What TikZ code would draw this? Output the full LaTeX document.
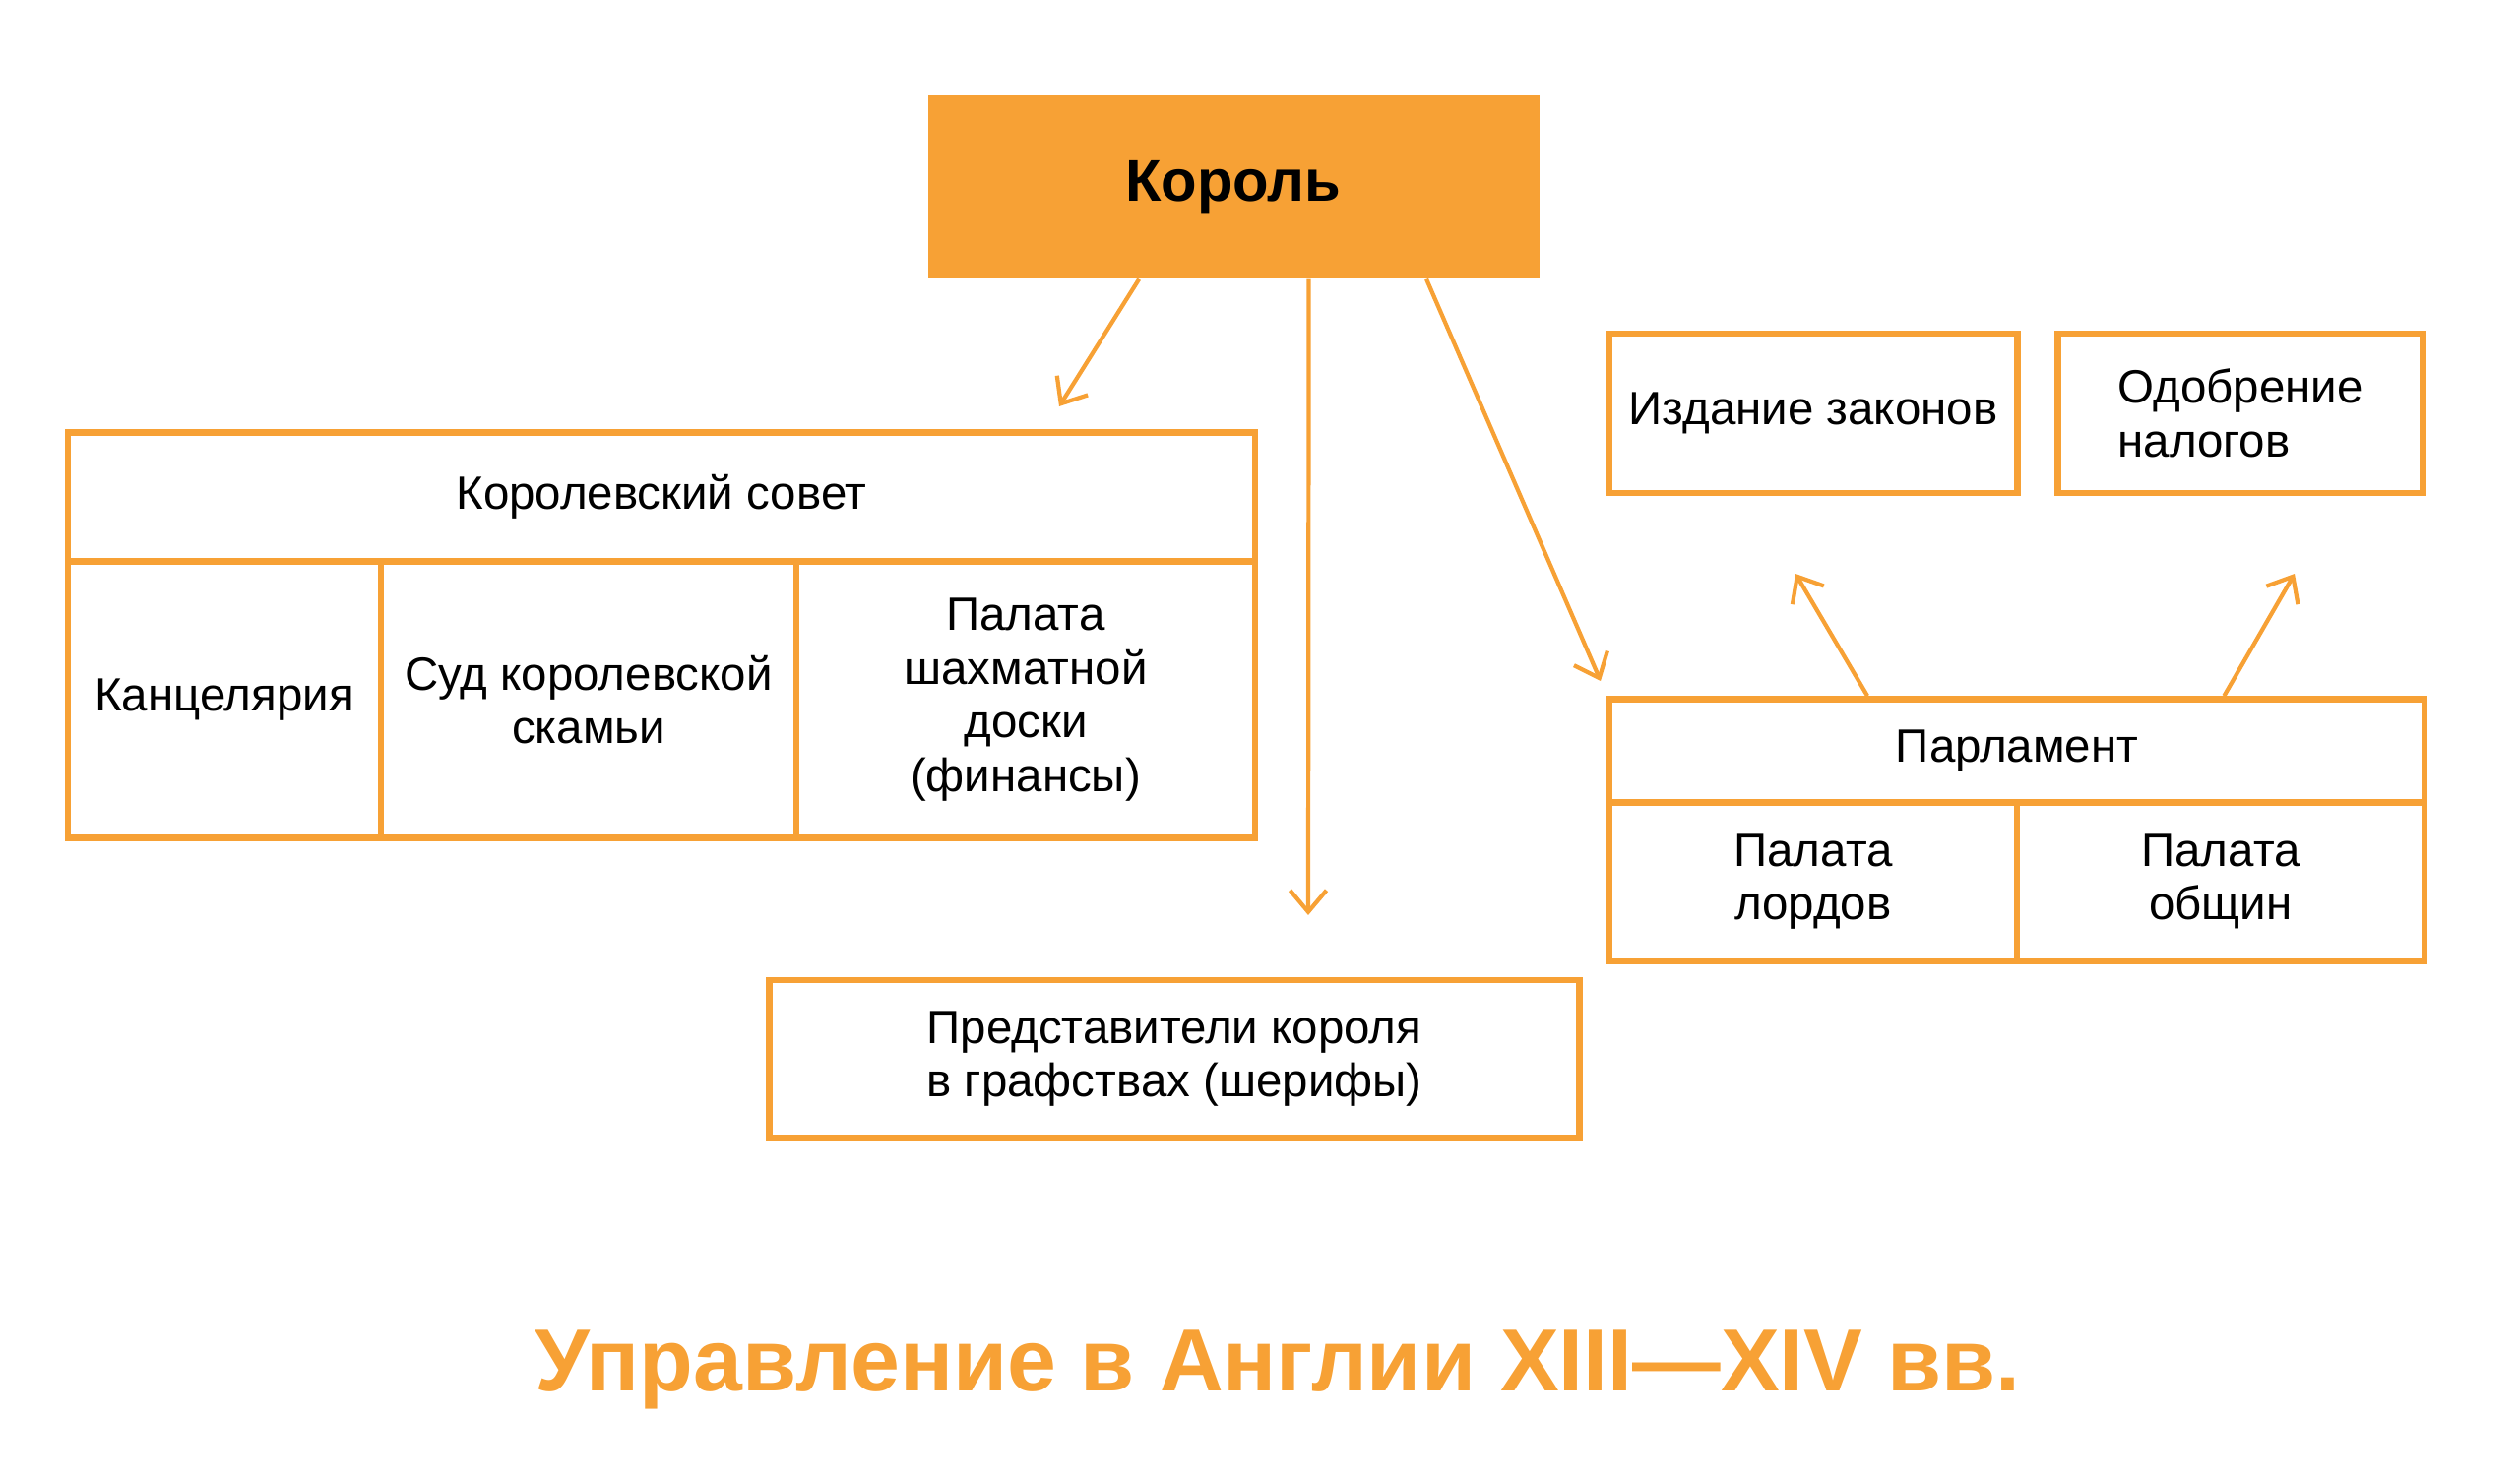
\documentclass[tikz,border=0pt]{standalone}
\usepackage{fontspec}
\setmainfont{Liberation Sans}
\usetikzlibrary{calc,arrows.meta}
\definecolor{orng}{RGB}{247,161,53}

\begin{document}
\begin{tikzpicture}[
    cell/.style={draw=orng, line width=1.9pt, inner sep=0pt, align=center,
        font=\fontsize{13.5}{15.5}\selectfont},
    king/.style={fill=orng, inner sep=0pt, font=\fontsize{17}{20}\selectfont\bfseries},
    arr/.style={->, draw=orng, line width=1.2pt},
    >={Straight Barb[length=2.2mm, width=3.7mm]}
]
    \useasboundingbox (0,0) rectangle (25.6,-15.04);

    \node[king, minimum width=6.21cm, minimum height=1.86cm](korol) at (12.53,-1.9){Король};

    \node[cell, minimum width=12.06cm, minimum height=1.31cm](sovet) at (6.72,-5.05){Королевский совет};
    \node[cell, minimum width=3.18cm, minimum height=2.81cm](kanc) at (2.28,-7.11){Канцелярия};
    \node[cell, minimum width=4.22cm, minimum height=2.81cm](sud) at (5.98,-7.11){Суд королевской\\скамьи};
    \node[cell, minimum width=4.66cm, minimum height=2.81cm](shakh) at (10.42,-7.11){Палата\\шахматной\\доски\\(финансы)};

    \node[cell, minimum width=4.15cm, minimum height=1.62cm](zakon) at (18.42,-4.2){Издание законов};
    \node[cell, minimum width=3.71cm, minimum height=1.62cm, align=left](nalog) at (22.76,-4.2){Одобрение\\налогов};

    \node[cell, minimum width=8.28cm, minimum height=1.05cm](parl) at (20.49,-7.63){Парламент};
    \node[cell, minimum width=4.14cm, minimum height=1.62cm](lord) at (18.42,-8.96){Палата\\лордов};
    \node[cell, minimum width=4.14cm, minimum height=1.62cm](obsh) at (22.56,-8.96){Палата\\общин};

    \node[cell, minimum width=8.23cm, minimum height=1.6cm](sherif) at (11.93,-10.76){Представители короля\\в графствах (шерифы)};

    \node[text=orng, font=\fontsize{25.5}{30}\selectfont\bfseries](title) at (12.98,-13.92){Управление в Англии XIII—XIV вв.};

    \coordinate (e1) at (10.76,-4.13);
    \coordinate (e2) at (13.29,-9.30);
    \coordinate (e3) at (16.26,-6.92);
    \coordinate (e4) at (18.24,-5.83);
    \coordinate (e5) at (23.31,-5.83);

    \draw[arr]($(korol.south west)!0.346!(korol.south east)$)--(e1);
    \draw[arr]($(korol.south west)!0.623!(korol.south east)$)--(e2);
    \draw[arr]($(korol.south west)!0.815!(korol.south east)$)--(e3);
    \draw[arr]($(parl.north west)!0.318!(parl.north east)$)--(e4);
    \draw[arr]($(parl.north west)!0.752!(parl.north east)$)--(e5);

\end{tikzpicture}
\end{document}
